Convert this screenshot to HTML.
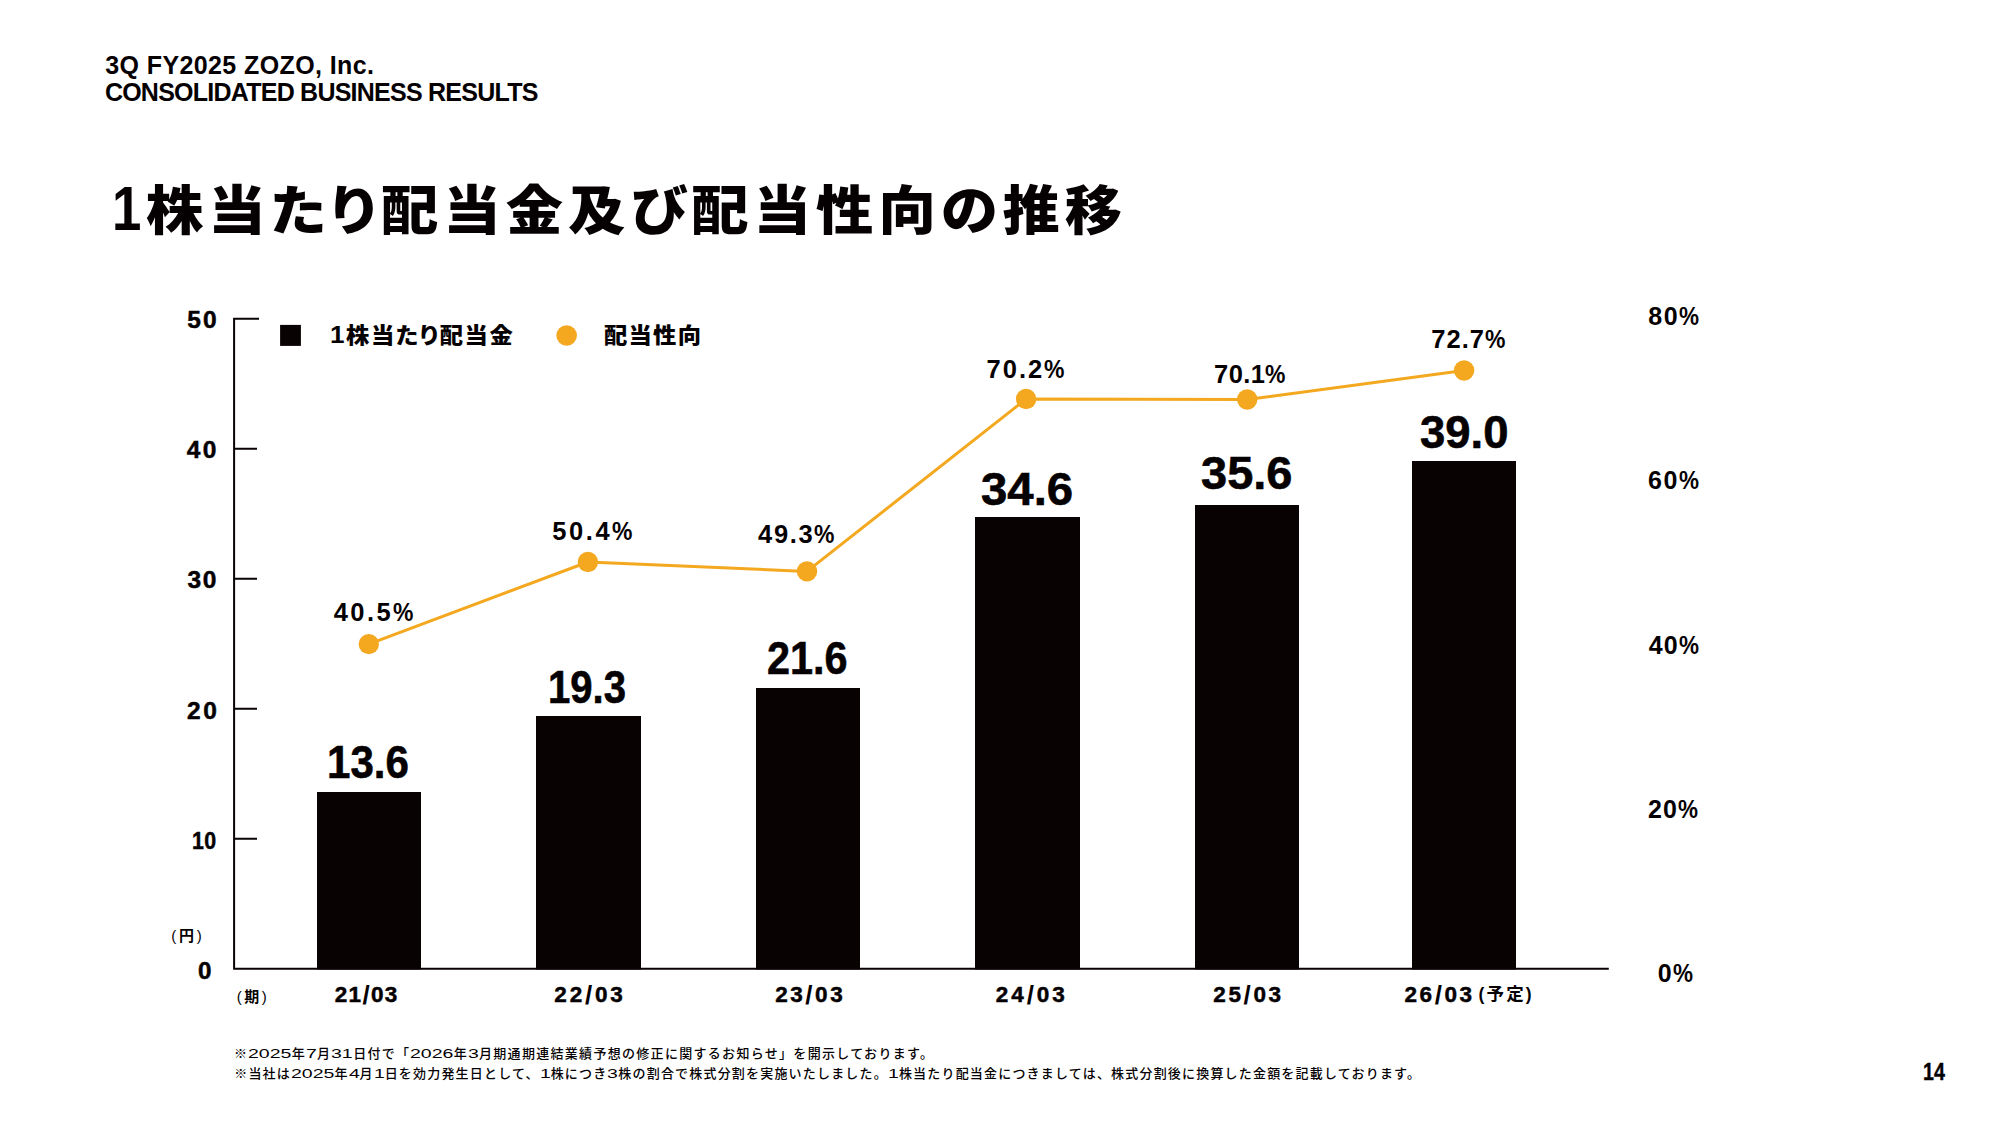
<!DOCTYPE html>
<html lang="ja">
<head>
<meta charset="utf-8">
<title>1株当たり配当金及び配当性向の推移</title>
<style>
  html, body { margin: 0; padding: 0; background: #ffffff; }
  body { width: 2000px; height: 1125px; position: relative; overflow: hidden;
         font-family: "Liberation Sans", "Noto Sans CJK JP", sans-serif; color: #000; }
  .t { position: absolute; white-space: nowrap; line-height: 1; font-weight: 700; color: #050102;
       font-family: "Liberation Sans", "Noto Sans CJK JP", sans-serif; transform-origin: 0 50%; }
  .d { display: inline-block; transform: scaleX(1.5); transform-origin: 0 50%; letter-spacing: 0; }
  .pc { display: inline-block; transform: scaleX(0.9); transform-origin: 0 50%; margin-right: -0.089em; }
  .one { display: inline-block; font-size: 1.18em; line-height: 0; transform: scaleX(0.78); transform-origin: 0 50%; margin-right: -0.13em; }
  .one1 { font-size: 1.12em; line-height: 0; }
  .pr { font-weight: 400; }
  .sl { font-size: 1.15em; line-height: 0; position: relative; top: 1.8px; -webkit-text-stroke: 0; }
  .d1 { margin-right: 3.7px; } .d2 { margin-right: 7.3px; } .d4 { margin-right: 14.5px; }
  svg { position: absolute; left: 0; top: 0; }
</style>
</head>
<body>
<svg width="2000" height="1125" viewBox="0 0 2000 1125">
  <g fill="#080203">
    <rect x="317" y="792" width="104" height="177.5"/>
    <rect x="536" y="716" width="105" height="253.5"/>
    <rect x="756" y="688" width="104" height="281.5"/>
    <rect x="975" y="517" width="105" height="452.5"/>
    <rect x="1195" y="505" width="104" height="464.5"/>
    <rect x="1412" y="461" width="104" height="508.5"/>
    <rect x="280.1" y="324.9" width="20.8" height="21"/>
  </g>
  <g stroke="#080203" stroke-width="2" fill="none">
    <path d="M259 318.8H234.1V968.85H1608.8"/>
    <path d="M234.1 448.8H257M234.1 578.8H257M234.1 708.8H257M234.1 838.8H257"/>
  </g>
  <polyline points="368.8,644.1 587.9,562 807,571.4 1026.1,399 1247.2,399.5 1464.1,370.5" fill="none" stroke="#f3a81f" stroke-width="3" stroke-linejoin="round"/>
  <g fill="#f3a81f">
    <circle cx="368.8" cy="644.1" r="10.2"/>
    <circle cx="587.9" cy="562" r="10.2"/>
    <circle cx="807" cy="571.4" r="10.2"/>
    <circle cx="1026.1" cy="399" r="10.2"/>
    <circle cx="1247.2" cy="399.5" r="10.2"/>
    <circle cx="1464.1" cy="370.5" r="10.2"/>
    <circle cx="566.65" cy="335.5" r="10.3"/>
  </g>
</svg>

<div class="t" id="hdr1" style="left:105.21px;top:53.00px;font-size:25.00px;letter-spacing:0.402px;">3Q FY2025 ZOZO, Inc.</div>
<div class="t" id="hdr2" style="left:104.89px;top:80.00px;font-size:25.00px;letter-spacing:-0.758px;">CONSOLIDATED BUSINESS RESULTS</div>
<div class="t" id="title" style="left:111.76px;top:185.00px;font-size:53.60px;letter-spacing:4.726px;font-weight:900;transform:scaleX(1.0700);font-feature-settings:'palt';"><span class="one">1</span>株当たり配当金及び配当性向の推移</div>
<div class="t" id="y50" style="left:187.19px;top:308.00px;font-size:24.50px;letter-spacing:2.069px;-webkit-text-stroke:0.5px #050102;">50</div>
<div class="t" id="y40" style="left:186.68px;top:438.00px;font-size:24.50px;letter-spacing:2.518px;-webkit-text-stroke:0.5px #050102;">40</div>
<div class="t" id="y30" style="left:187.58px;top:568.00px;font-size:24.50px;letter-spacing:1.639px;-webkit-text-stroke:0.5px #050102;">30</div>
<div class="t" id="y20" style="left:187.11px;top:699.00px;font-size:24.50px;letter-spacing:2.396px;-webkit-text-stroke:0.5px #050102;">20</div>
<div class="t" id="y10" style="left:192.00px;top:829.00px;font-size:24.50px;letter-spacing:0.500px;transform:scaleX(0.8707);-webkit-text-stroke:0.5px #050102;">10</div>
<div class="t" id="y0" style="left:197.75px;top:959.00px;font-size:24.50px;transform:scaleX(0.9874);-webkit-text-stroke:0.5px #050102;">0</div>
<div class="t" id="yen" style="left:171.35px;top:928.00px;font-size:15.00px;letter-spacing:2.642px;"><span class="pr">(</span>円<span class="pr">)</span></div>
<div class="t" id="ki" style="left:236.67px;top:989.00px;font-size:15.00px;letter-spacing:2.592px;"><span class="pr">(</span>期<span class="pr">)</span></div>
<div class="t" id="r80" style="left:1648.32px;top:304.00px;font-size:25.00px;letter-spacing:1.412px;">80<span class="pc">%</span></div>
<div class="t" id="r60" style="left:1648.06px;top:468.00px;font-size:25.00px;letter-spacing:1.541px;">60<span class="pc">%</span></div>
<div class="t" id="r40" style="left:1648.76px;top:633.00px;font-size:25.00px;letter-spacing:1.194px;">40<span class="pc">%</span></div>
<div class="t" id="r20" style="left:1648.11px;top:797.00px;font-size:25.00px;letter-spacing:1.090px;">20<span class="pc">%</span></div>
<div class="t" id="r0" style="left:1657.79px;top:961.00px;font-size:25.00px;letter-spacing:1.235px;">0<span class="pc">%</span></div>
<div class="t" id="lg1" style="left:330.40px;top:325.00px;font-size:21.20px;letter-spacing:1.429px;font-weight:900;transform:scaleX(1.1000);font-feature-settings:'palt';"><span class="one1">1</span>株当たり配当金</div>
<div class="t" id="lg2" style="left:603.62px;top:325.00px;font-size:21.20px;letter-spacing:1.142px;font-weight:900;transform:scaleX(1.1000);">配当性向</div>
<div class="t" id="x1" style="left:334.78px;top:984.00px;font-size:22.50px;letter-spacing:1.310px;-webkit-text-stroke:0.5px #050102;">21<span class="sl">/</span>03</div>
<div class="t" id="x2" style="left:554.33px;top:984.00px;font-size:22.50px;letter-spacing:2.824px;-webkit-text-stroke:0.5px #050102;">22<span class="sl">/</span>03</div>
<div class="t" id="x3" style="left:775.15px;top:984.00px;font-size:22.50px;letter-spacing:2.580px;-webkit-text-stroke:0.5px #050102;">23<span class="sl">/</span>03</div>
<div class="t" id="x4" style="left:995.78px;top:984.00px;font-size:22.50px;letter-spacing:2.935px;-webkit-text-stroke:0.5px #050102;">24<span class="sl">/</span>03</div>
<div class="t" id="x5" style="left:1213.25px;top:984.00px;font-size:22.50px;letter-spacing:2.630px;-webkit-text-stroke:0.5px #050102;">25<span class="sl">/</span>03</div>
<div class="t" id="x6" style="left:1404.38px;top:984.00px;font-size:22.50px;letter-spacing:2.611px;-webkit-text-stroke:0.5px #050102;">26<span class="sl">/</span>03</div>
<div class="t" id="x6b" style="left:1478.59px;top:986.00px;font-size:17.50px;letter-spacing:2.144px;">(予定)</div>
<div class="t" id="p1" style="left:333.73px;top:600.00px;font-size:25.50px;letter-spacing:2.469px;">40.5<span class="pc">%</span></div>
<div class="t" id="p2" style="left:552.25px;top:519.00px;font-size:25.50px;letter-spacing:2.576px;">50.4<span class="pc">%</span></div>
<div class="t" id="p3" style="left:758.06px;top:522.00px;font-size:25.50px;letter-spacing:1.699px;">49.3<span class="pc">%</span></div>
<div class="t" id="p4" style="left:986.60px;top:357.00px;font-size:25.50px;letter-spacing:1.989px;">70.2<span class="pc">%</span></div>
<div class="t" id="p5" style="left:1214.11px;top:362.00px;font-size:25.50px;letter-spacing:0.412px;">70.1<span class="pc">%</span></div>
<div class="t" id="p6" style="left:1431.24px;top:327.00px;font-size:25.50px;letter-spacing:1.029px;">72.7<span class="pc">%</span></div>
<div class="t" id="b1" style="left:326.76px;top:739.00px;font-size:46.00px;transform:scaleX(0.9153);-webkit-text-stroke:0.6px #050102;">13.6</div>
<div class="t" id="b2" style="left:547.66px;top:664.00px;font-size:46.00px;transform:scaleX(0.8719);-webkit-text-stroke:0.6px #050102;">19.3</div>
<div class="t" id="b3" style="left:766.85px;top:635.00px;font-size:46.00px;transform:scaleX(0.9000);-webkit-text-stroke:0.6px #050102;">21.6</div>
<div class="t" id="b4" style="left:980.69px;top:466.00px;font-size:46.00px;transform:scaleX(1.0295);-webkit-text-stroke:0.6px #050102;">34.6</div>
<div class="t" id="b5" style="left:1200.69px;top:450.00px;font-size:46.00px;transform:scaleX(1.0215);-webkit-text-stroke:0.6px #050102;">35.6</div>
<div class="t" id="b6" style="left:1419.81px;top:409.00px;font-size:46.00px;transform:scaleX(0.9886);-webkit-text-stroke:0.6px #050102;">39.0</div>
<div class="t" id="fn1" style="left:234.12px;top:1047.00px;font-size:13.00px;letter-spacing:1.300px;font-weight:500;">※<span class="d d4">2025</span>年<span class="d d1">7</span>月<span class="d d2">31</span>日付で「<span class="d d4">2026</span>年<span class="d d1">3</span>月期通期連結業績予想の修正に関するお知らせ」を開示しております。</div>
<div class="t" id="fn2" style="left:234.22px;top:1067.00px;font-size:13.00px;letter-spacing:1.190px;font-weight:500;">※当社は<span class="d d4">2025</span>年<span class="d d1">4</span>月<span class="d d1">1</span>日を効力発生日として、<span class="d d1">1</span>株につき<span class="d d1">3</span>株の割合で株式分割を実施いたしました。<span class="d d1">1</span>株当たり配当金につきましては、株式分割後に換算した金額を記載しております。</div>
<div class="t" id="pg" style="left:1922.75px;top:1061.00px;font-size:23.30px;transform:scaleX(0.8438);-webkit-text-stroke:0.4px #050102;">14</div>
</body>
</html>
